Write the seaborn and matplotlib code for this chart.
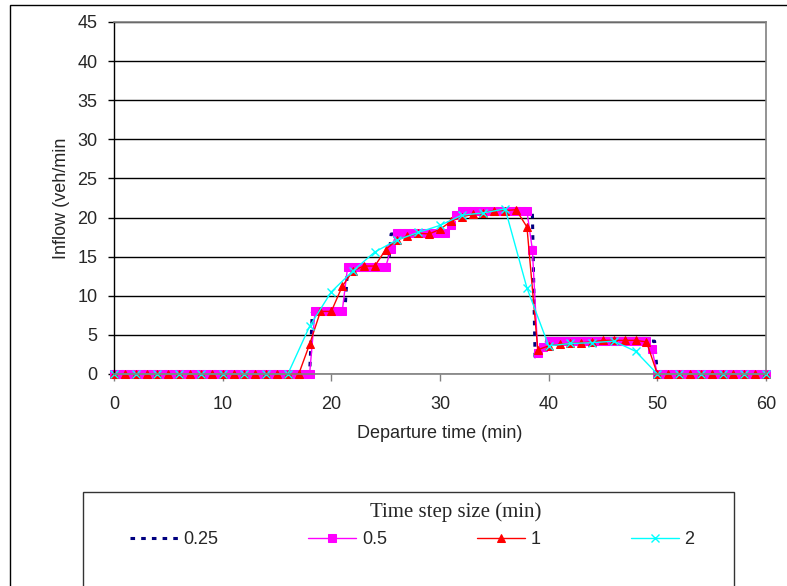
import numpy as np
import pandas as pd
import matplotlib
matplotlib.use("Agg")
import matplotlib.pyplot as plt
from matplotlib.patches import Rectangle
import seaborn as sns

# time grids for each step size (min)
t_025 = np.linspace(0, 60, 241)
t_05 = np.linspace(0, 60, 121)
t_1 = np.linspace(0, 60, 61)
t_2 = np.linspace(0, 60, 31)

# inflow (veh/min), step size 0.25 min, 20 values per row (5 min)
flow_025 = [
    0, 0, 0, 0, 0, 0, 0, 0, 0, 0, 0, 0, 0, 0, 0, 0, 0, 0, 0, 0,
    0, 0, 0, 0, 0, 0, 0, 0, 0, 0, 0, 0, 0, 0, 0, 0, 0, 0, 0, 0,
    0, 0, 0, 0, 0, 0, 0, 0, 0, 0, 0, 0, 0, 0, 0, 0, 0, 0, 0, 0,
    0, 0, 0, 0, 0, 0, 0, 0, 0, 0, 0, 0, 0, 7.9, 7.9, 7.9, 7.9, 7.9, 7.9, 7.9,
    8.0, 8.0, 8.0, 8.0, 8.0, 8.0, 13.7, 13.7, 13.7, 13.7, 13.7, 13.7, 13.7, 13.7, 13.7, 13.7, 13.7, 13.7, 13.7, 13.7,
    13.7, 13.7, 17.9, 17.9, 17.9, 17.9, 17.9, 17.9, 17.9, 17.9, 17.9, 17.9, 17.9, 17.9, 17.9, 17.9, 17.9, 17.9, 17.9, 17.9,
    17.9, 17.9, 17.9, 17.9, 19.0, 20.0, 20.7, 20.7, 20.7, 20.7, 20.7, 20.7, 20.7, 20.7, 20.7, 20.7, 20.7, 20.7, 20.7, 20.7,
    20.7, 20.7, 20.7, 20.7, 20.7, 20.7, 20.7, 20.7, 20.7, 20.7, 20.7, 20.7, 20.7, 20.7, 20.7, 2.2, 2.8, 3.3, 3.7, 4.0,
    4.2, 4.2, 4.2, 4.2, 4.2, 4.2, 4.2, 4.2, 4.2, 4.2, 4.2, 4.2, 4.2, 4.2, 4.2, 4.2, 4.2, 4.2, 4.2, 4.2,
    4.2, 4.2, 4.2, 4.2, 4.2, 4.2, 4.2, 4.2, 4.2, 4.2, 4.2, 4.2, 4.2, 4.2, 4.2, 4.2, 4.2, 4.2, 4.2, 4.2,
    0, 0, 0, 0, 0, 0, 0, 0, 0, 0, 0, 0, 0, 0, 0, 0, 0, 0, 0, 0,
    0, 0, 0, 0, 0, 0, 0, 0, 0, 0, 0, 0, 0, 0, 0, 0, 0, 0, 0, 0,
    0,
]

# step size 0.5 min, 10 values per row (5 min)
flow_05 = [
    0, 0, 0, 0, 0, 0, 0, 0, 0, 0,
    0, 0, 0, 0, 0, 0, 0, 0, 0, 0,
    0, 0, 0, 0, 0, 0, 0, 0, 0, 0,
    0, 0, 0, 0, 0, 0, 0, 8.0, 8.0, 8.0,
    8.0, 8.0, 8.0, 13.7, 13.7, 13.7, 13.7, 13.7, 13.7, 13.7,
    13.7, 16.0, 18.0, 18.0, 18.0, 18.0, 18.0, 18.0, 18.0, 18.0,
    18.0, 18.0, 19.0, 20.3, 20.8, 20.8, 20.8, 20.8, 20.8, 20.8,
    20.8, 20.8, 20.8, 20.8, 20.8, 20.8, 20.8, 15.9, 2.7, 3.5,
    4.2, 4.2, 4.2, 4.2, 4.2, 4.2, 4.2, 4.2, 4.2, 4.2,
    4.2, 4.2, 4.2, 4.2, 4.2, 4.2, 4.2, 4.2, 4.2, 3.2,
    0, 0, 0, 0, 0, 0, 0, 0, 0, 0,
    0, 0, 0, 0, 0, 0, 0, 0, 0, 0,
    0,
]

# step size 1 min
flow_1 = [
    0, 0, 0, 0, 0, 0, 0, 0, 0, 0,
    0, 0, 0, 0, 0, 0, 0, 0, 3.8, 8.0,
    8.0, 11.2, 13.2, 13.8, 13.8, 15.9, 17.1, 17.6, 18.0, 17.9,
    18.5, 19.5, 20.1, 20.4, 20.6, 20.9, 20.9, 21.0, 18.8, 3.1,
    3.6, 3.8, 3.9, 4.0, 4.1, 4.3, 4.3, 4.3, 4.3, 4.1,
    0, 0, 0, 0, 0, 0, 0, 0, 0, 0,
    0,
]

# step size 2 min
flow_2 = [
    0, 0, 0, 0, 0, 0, 0, 0, 0, 6.1,
    10.5, 13.2, 15.6, 17.1, 18.1, 19.0, 20.3, 20.6, 21.1, 11.0,
    3.6, 3.9, 4.0, 4.2, 2.9, 0, 0, 0, 0, 0,
    0,
]

labels = ["0.25", "0.5", "1", "2"]
y_ticks = [0, 5, 10, 15, 20, 25, 30, 35, 40, 45]
x_ticks = [0, 10, 20, 30, 40, 50, 60]

sns.set_style("white")
plt.rcParams["font.family"] = ["Liberation Sans", "DejaVu Sans"]

W, H = 787, 586
fig = plt.figure(figsize=(W / 100, H / 100), dpi=100)
ax = fig.add_axes([114 / W, 1 - 374 / H, (766 - 114) / W, (374 - 22) / H])

series = [
    (t_025, flow_025, dict(color="#000080", lw=2.2, linestyle=(0, (1.5, 2.0)))),
    (t_05, flow_05, dict(color="#FF00FF", lw=1.0, marker="s", ms=6.0, mec="#FF00FF")),
    (t_1, flow_1, dict(color="#FF0000", lw=1.0, marker="^", ms=6.0, mec="#FF0000")),
    (t_2, flow_2, dict(color="#00FFFF", lw=1.0, marker="x", ms=5.5, mec="#00FFFF", mew=1.0)),
]
for (t, f, style), lab in zip(series, labels):
    df = pd.DataFrame({"t": t, "flow": f})
    sns.lineplot(data=df, x="t", y="flow", ax=ax, label=lab, legend=False,
                 errorbar=None, clip_on=False, **style)

ax.set_xlim(0, 60)
ax.set_ylim(0, 45)
ax.set_xticks(x_ticks)
ax.set_yticks(y_ticks)
ax.set_xlabel("")
ax.set_ylabel("")
ax.yaxis.grid(True, color="black", lw=1.0)
ax.xaxis.grid(False)
ax.set_axisbelow(True)

for side in ["top", "right", "bottom"]:
    ax.spines[side].set_color("#808080")
    ax.spines[side].set_linewidth(1.2)
ax.spines["left"].set_color("black")
ax.spines["left"].set_linewidth(1.0)

ax.tick_params(axis="x", direction="out", length=5, width=1, color="#808080",
               labelsize=13, pad=11, bottom=True)
ax.tick_params(axis="y", direction="out", length=4, width=1, color="black",
               labelsize=13, pad=8, left=True)

fig.text(61 / W, 1 - 198 / H, "Inflow (veh/min", rotation=90, ha="center",
         va="center", fontsize=13)
fig.text(440 / W, 1 - 434 / H, "Departure time (min)", ha="center",
         va="center", fontsize=13)

# chart-area border and legend box
fig.patches.append(Rectangle((10 / W, -0.1), 1.1, 1 - 5 / H + 0.1,
                             transform=fig.transFigure, fill=False,
                             ec="black", lw=1.0))
fig.patches.append(Rectangle((83 / W, -0.1), (734 - 83) / W, 1 - 492 / H + 0.1,
                             transform=fig.transFigure, fill=False,
                             ec="#333333", lw=1.0))

handles, labs = ax.get_legend_handles_labels()
fig.legend(handles, labs, loc="center", bbox_to_anchor=(412 / W, 1 - 540 / H),
           ncol=4, frameon=False, fontsize=13, handlelength=2.66,
           handletextpad=0.3, columnspacing=5.0)
fig.text(456 / W, 1 - 512 / H, "Time step size (min)", ha="center",
         va="center", fontsize=15, family=["Liberation Serif", "DejaVu Serif"])

fig.savefig("out.png", dpi=100)
